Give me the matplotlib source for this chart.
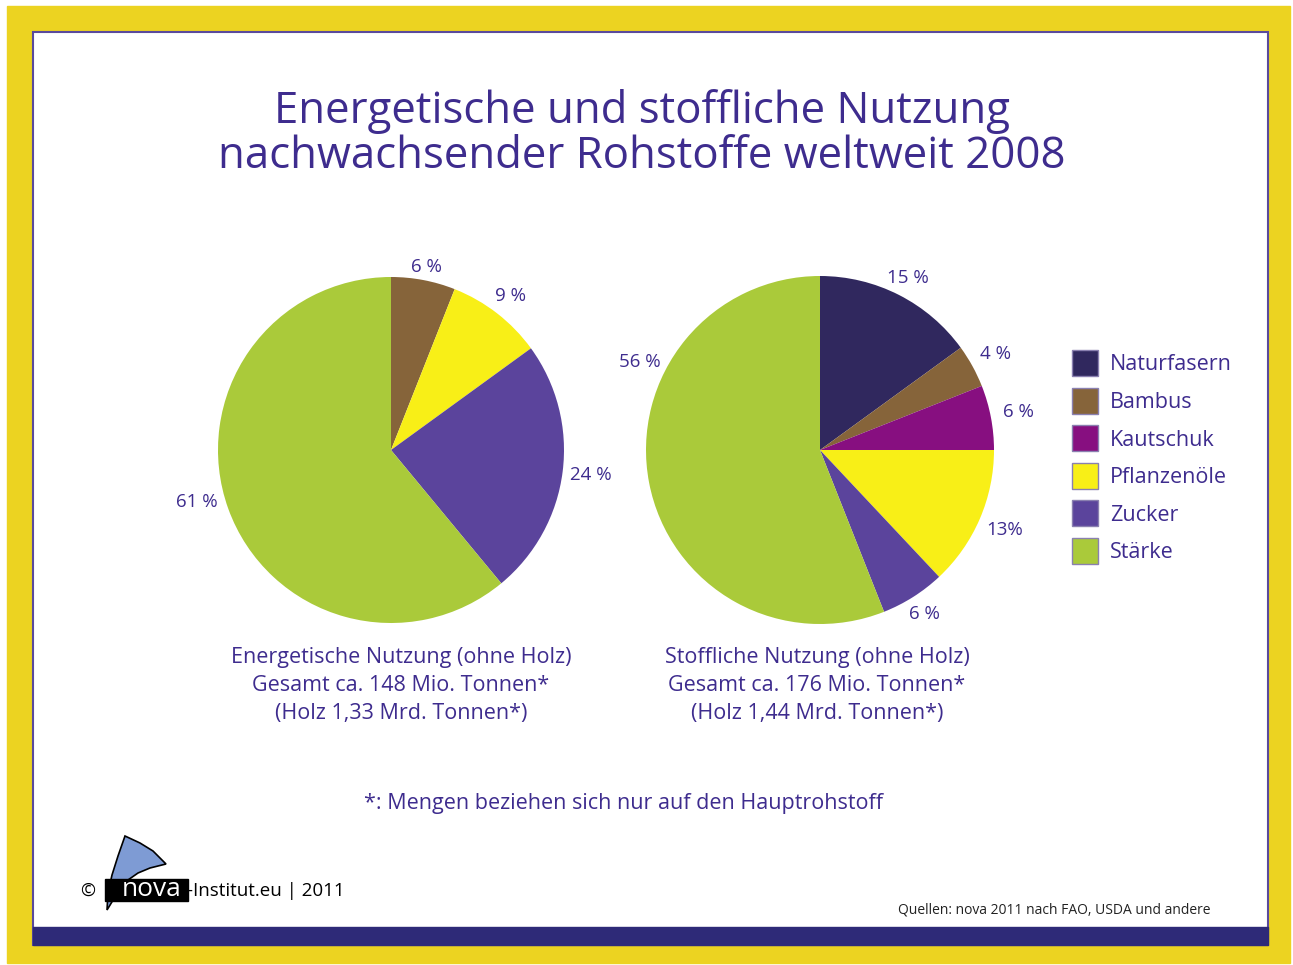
import matplotlib.pyplot as plt
from matplotlib.patches import Rectangle, Polygon
import numpy as np

W, H = 1293, 965
plt.rcParams['font.family'] = ['Open Sans', 'DejaVu Sans']

# --- data ---
categories = ["Naturfasern", "Bambus", "Kautschuk", "Pflanzenöle", "Zucker", "Stärke"]
cat_colors = ["#30285e", "#86643a", "#870f80", "#f8ef17", "#5b449c", "#aaca3a"]

energy_cats = ["Bambus", "Pflanzenöle", "Zucker", "Stärke"]
energy_share = [6, 9, 24, 61]
energy_labels = ["6 %", "9 %", "24 %", "61 %"]

material_cats = ["Naturfasern", "Bambus", "Kautschuk", "Pflanzenöle", "Zucker", "Stärke"]
material_share = [15, 4, 6, 13, 6, 56]
material_labels = ["15 %", "4 %", "6 %", "13%", "6 %", "56 %"]

title = "Energetische und stoffliche Nutzung\nnachwachsender Rohstoffe weltweit 2008"
sub1 = ["Energetische Nutzung (ohne Holz)", "Gesamt ca. 148 Mio. Tonnen*", "(Holz 1,33 Mrd. Tonnen*)"]
sub2 = ["Stoffliche Nutzung (ohne Holz)", "Gesamt ca. 176 Mio. Tonnen*", "(Holz 1,44 Mrd. Tonnen*)"]
footnote = "*: Mengen beziehen sich nur auf den Hauptrohstoff"
source = "Quellen: nova 2011 nach FAO, USDA und andere"

TXT = "#3e2c8e"
colmap = dict(zip(categories, cat_colors))

fig = plt.figure(figsize=(W / 100, H / 100), dpi=100)
fig.patch.set_facecolor("white")
ax = fig.add_axes([0, 0, 1, 1])

def Y(y):  # image pixel row -> data y
    return H - y

# frame: yellow border, white panel, navy bottom bar
ax.add_patch(Rectangle((7, Y(963)), 1283, 957, color="#ecd321", zorder=0))
ax.add_patch(Rectangle((33, Y(945)), 1235, 913, facecolor="white",
                       edgecolor="#5a4a9c", lw=1.5, zorder=1))
ax.add_patch(Rectangle((33, Y(945)), 1235, 18, color="#2e2a78", zorder=2))

ax.text(642, Y(134), title, ha="center", va="center", fontsize=31.5,
        color=TXT, linespacing=1.02, zorder=5)

# --- pies ---
def draw_pie(cx, cy, R, shares, cats, labels, label_angle_fix=None):
    wedges, _ = ax.pie(shares, colors=[colmap[c] for c in cats], startangle=90,
                       counterclock=False, center=(cx, Y(cy)), radius=R,
                       frame=True, wedgeprops=dict(linewidth=0, zorder=3))
    ang0 = 90.0
    tot = float(sum(shares))
    for i, (s, lab) in enumerate(zip(shares, labels)):
        mid = ang0 - 360 * (s / 2) / tot
        ang0 -= 360 * s / tot
        if label_angle_fix and i in label_angle_fix:
            mid = label_angle_fix[i]
        r = R * 1.06 + 18 * abs(np.cos(np.radians(mid)))
        ax.text(cx + r * np.cos(np.radians(mid)), Y(cy) + r * np.sin(np.radians(mid)),
                lab, ha="center", va="center", fontsize=13.5, color=TXT, zorder=5)

draw_pie(391, 450, 173, energy_share, energy_cats, energy_labels, {3: -165})
draw_pie(820, 450, 174, material_share, material_cats, material_labels, {5: 154})

for i, line in enumerate(sub1):
    ax.text(401, Y(657 + 28.5 * i), line, ha="center", va="center", fontsize=15.5,
            color=TXT, zorder=5)
for i, line in enumerate(sub2):
    ax.text(817, Y(657 + 28.5 * i), line, ha="center", va="center", fontsize=15.5,
            color=TXT, zorder=5)

ax.text(623, Y(803), footnote, ha="center", va="center", fontsize=15.5, color=TXT,
        zorder=5)

# --- legend ---
for i, c in enumerate(categories):
    yy = 363 + 37.6 * i
    ax.add_patch(Rectangle((1072, Y(yy + 13)), 26, 26, facecolor=colmap[c],
                           edgecolor="#8a80b0", lw=1, zorder=4))
    ax.text(1110, Y(yy + 2), c, ha="left", va="center", fontsize=15.5, color=TXT, zorder=5)

# --- logo ---
ax.text(80, Y(891), "©", ha="left", va="center", fontsize=13, color="black", zorder=6)
sail = [(107, 910), (108, 893), (112, 875), (118, 856), (125, 836), (140, 843),
        (153, 851), (166, 864), (150, 868), (138, 873), (128, 880), (118, 892)]
ax.add_patch(Polygon([(x, Y(y)) for x, y in sail], closed=True, facecolor="#7e9bd4",
                     edgecolor="black", lw=1.2, zorder=6))
ax.add_patch(Rectangle((105, Y(901)), 83, 22, color="black", zorder=7))
ax.text(152, Y(890), "nova", ha="center", va="center", fontsize=19, color="white",
        zorder=8)
ax.text(187, Y(891), "-Institut.eu | 2011", ha="left", va="center", fontsize=13.5,
        color="black", zorder=6)

ax.text(1211, Y(910), source, ha="right", va="center", fontsize=10, color="#222222", zorder=5)

ax.set_xlim(0, W)
ax.set_ylim(0, H)
ax.set_aspect("auto")
ax.axis("off")

fig.savefig("out.png", dpi=100)
